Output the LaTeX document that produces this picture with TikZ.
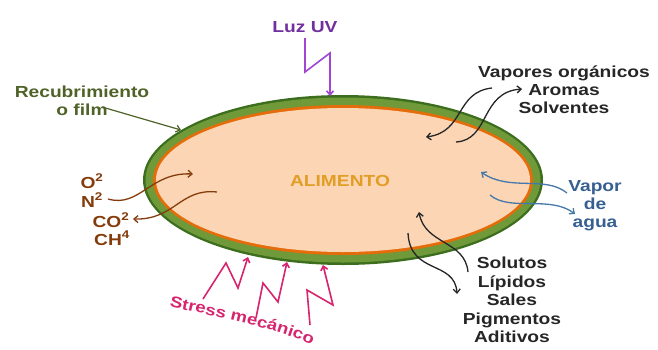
\documentclass[tikz,border=0pt]{standalone}
\usepackage{fontspec}
\setsansfont{Liberation Sans}[FakeStretch=1.2]
\usepackage{xcolor}
\usetikzlibrary{arrows.meta, decorations.text, positioning}

\definecolor{peach}{RGB}{252,213,181}
\definecolor{rind}{RGB}{228,108,10}
\definecolor{filmgreen}{RGB}{112,154,58}
\definecolor{filmdark}{RGB}{60,110,30}
\definecolor{filmtext}{RGB}{79,98,40}
\definecolor{uvtext}{RGB}{112,48,160}
\definecolor{uvbolt}{RGB}{160,70,210}
\definecolor{gas}{RGB}{132,60,12}
\definecolor{vaportext}{RGB}{55,96,146}
\definecolor{vaporline}{RGB}{70,120,170}
\definecolor{alimtext}{RGB}{226,158,36}
\definecolor{stress}{RGB}{214,36,110}
\definecolor{darkgray}{RGB}{38,38,38}

\begin{document}
\begin{tikzpicture}[
  x=1pt, y=-1pt,
  lbl/.style={font=\sffamily\bfseries\fontsize{16}{18}\selectfont, align=center, inner sep=0pt},
  flow/.style={-{Straight Barb[length=4pt,width=7pt]}, line width=1.3pt},
  bolt/.style={-{Straight Barb[length=4pt,width=7pt]}, line width=1.6pt, line join=miter}
]
  \useasboundingbox (0,0) rectangle (658,349);

  % alimento con recubrimiento
  \fill[filmdark] (343,180) ellipse [x radius=200, y radius=85];
  \fill[filmgreen] (343,180) ellipse [x radius=197.5, y radius=82.5];
  \fill[rind] (343,180) ellipse [x radius=190, y radius=75];
  \fill[peach] (343,180) ellipse [x radius=187, y radius=72];
  \node[lbl, text=alimtext, anchor=base] (alim) at (340,186) {ALIMENTO};

  \node[lbl, text=filmtext] (film) at (82,101) {Recubrimiento\\o film};
  \node[lbl, text=uvtext, anchor=base] (uv) at (305,32) {Luz UV};
  \node[lbl, text=darkgray] (vapores) at (564,90) {Vapores orgánicos\\Aromas\\Solventes};
  \node[lbl, text=vaportext] (agua) at (595,206) {Vapor\\de\\agua};
  \node[lbl, text=darkgray, font=\sffamily\bfseries\fontsize{16}{18.5}\selectfont] (solutos) at (512,300) {Solutos\\Lípidos\\Sales\\Pigmentos\\Aditivos};

  \node[lbl, text=gas, anchor=base] (o2) at (92,188) {O\textsuperscript{2}};
  \node[lbl, text=gas, anchor=base] (n2) at (92,207) {N\textsuperscript{2}};
  \node[lbl, text=gas, anchor=base] (co2) at (111,227) {CO\textsuperscript{2}};
  \node[lbl, text=gas, anchor=base] (ch4) at (112,245) {CH\textsuperscript{4}};

  \path[decorate, decoration={text along path, text align=center,
      text={|\sffamily\bfseries\fontsize{15.5}{18}\selectfont\color{stress}|Stress mecánico}}]
    (167,306) .. controls (222,318) and (276,328) .. (314,346);

  % flechas
  \draw[flow, filmtext, line width=1.2pt] (102,107) -- (181,130);
  \draw[bolt, uvbolt] (305,38) -- (305,72) -- (330,53) -- (330,96);

  \draw[flow, darkgray] (492,88) .. controls (455,92) and (465,132) .. (426,137);
  \draw[flow, darkgray] (456,142) .. controls (490,140) and (480,92) .. (522,89);

  \draw[flow, vaporline] (567,193) .. controls (545,175) and (510,192) .. (481,172);
  \draw[flow, vaporline] (490,195) .. controls (510,212) and (550,195) .. (575,214);

  \draw[flow, gas] (108,199) .. controls (140,208) and (150,172) .. (193,174);
  \draw[flow, gas] (217,192) .. controls (180,188) and (175,220) .. (133,219);

  \draw[flow, darkgray] (468,272) .. controls (465,240) and (425,245) .. (419,212);
  \draw[flow, darkgray] (408,233) .. controls (410,275) and (455,260) .. (457,294);

  \draw[bolt, stress] (203,299) -- (226,263) -- (238,288) -- (248,257);
  \draw[bolt, stress] (256,318) -- (263,283) -- (278,302) -- (287,262);
  \draw[bolt, stress] (310,325) -- (307,290) -- (333,305) -- (323,265);
\end{tikzpicture}
\end{document}
